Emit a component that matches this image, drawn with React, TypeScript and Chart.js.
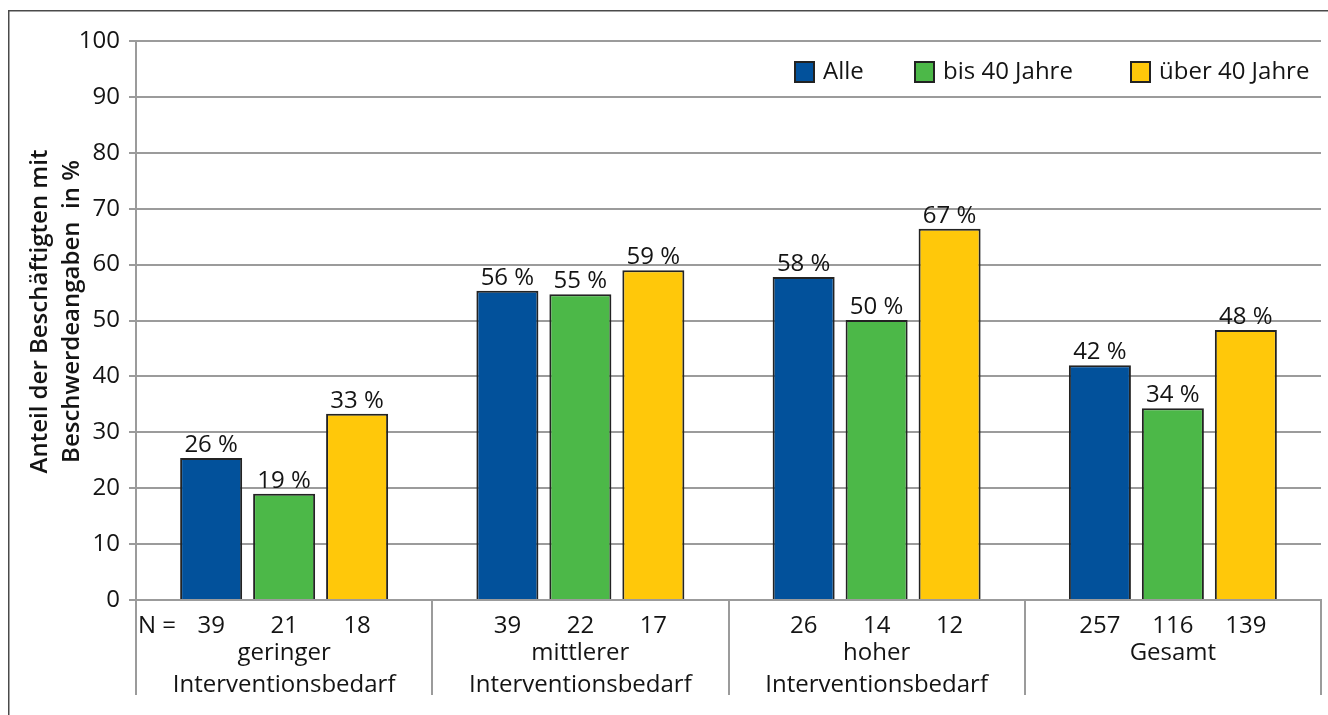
import React, { useEffect, useRef } from 'react';
import { Chart, registerables } from 'chart.js';

Chart.register(...registerables);

// ---- data ----
const groupLines: string[][] = [
  ['geringer', 'Interventionsbedarf'],
  ['mittlerer', 'Interventionsbedarf'],
  ['hoher', 'Interventionsbedarf'],
  ['Gesamt'],
];
const categories = groupLines.map((l) => l.join(' '));
const seriesNames = ['Alle', 'bis 40 Jahre', 'über 40 Jahre'];
const alleValues = [25.4, 55.3, 57.8, 42.0];
const bis40Values = [19.0, 54.7, 50.1, 34.3];
const ueber40Values = [33.3, 59.0, 66.4, 48.3];
const alleLabels = ['26 %', '56 %', '58 %', '42 %'];
const bis40Labels = ['19 %', '55 %', '50 %', '34 %'];
const ueber40Labels = ['33 %', '59 %', '67 %', '48 %'];
const alleN = ['39', '39', '26', '257'];
const bis40N = ['21', '22', '14', '116'];
const ueber40N = ['18', '17', '12', '139'];
const nPrefix = 'N =';
const yTitleLines = ['Anteil der Beschäftigten mit', 'Beschwerdeangaben  in %'];
const yMin = 0;
const yMax = 100;
const yStep = 10;

const seriesColors = ['#02519B', '#4CB848', '#FFC80A'];
const valueLabels = [alleLabels, bis40Labels, ueber40Labels];
const nLabels = [alleN, bis40N, ueber40N];

const FONT = "'Open Sans', 'Noto Sans', sans-serif";
const FS = 24;
const TEXT = '#141414';
const GRID = '#9b9b9b';

const overlayPlugin = {
  id: 'overlay',
  afterDraw(chart: any) {
    const ctx = chart.ctx as CanvasRenderingContext2D;
    const area = chart.chartArea;
    ctx.save();
    // outer frame
    ctx.strokeStyle = '#4a4a4a';
    ctx.lineWidth = 1.5;
    ctx.beginPath();
    ctx.moveTo(8.75, 715);
    ctx.lineTo(8.75, 10.75);
    ctx.lineTo(1328, 10.75);
    ctx.stroke();

    ctx.fillStyle = TEXT;
    ctx.font = `${FS}px ${FONT}`;
    // value labels above bars and N values below
    chart.data.datasets.forEach((ds: any, di: number) => {
      const meta = chart.getDatasetMeta(di);
      meta.data.forEach((el: any, i: number) => {
        ctx.textAlign = 'center';
        ctx.textBaseline = 'bottom';
        ctx.fillText(valueLabels[di][i], el.x, el.y - 1);
        ctx.textBaseline = 'middle';
        ctx.fillText(nLabels[di][i], el.x, area.bottom + 26);
      });
    });
    ctx.textAlign = 'left';
    ctx.textBaseline = 'middle';
    ctx.fillText(nPrefix, area.left + 2, area.bottom + 26);

    // group labels
    const xs = chart.scales.x;
    groupLines.forEach((lines, i) => {
      const cx = xs.getPixelForValue(i);
      lines.forEach((t, li) => {
        ctx.textAlign = 'center';
        ctx.textBaseline = 'middle';
        ctx.fillText(t, cx, area.bottom + 53 + li * 32);
      });
    });

    // y axis title
    ctx.save();
    ctx.translate(56, (area.top + area.bottom) / 2 - 9);
    ctx.rotate(-Math.PI / 2);
    ctx.font = `600 ${FS}px ${FONT}`;
    ctx.textAlign = 'center';
    ctx.textBaseline = 'middle';
    ctx.fillText(yTitleLines[0], 0, -16);
    ctx.fillText(yTitleLines[1], 0, 16);
    ctx.restore();

    // legend inside plot
    const legendX = [795, 915, 1131];
    const ly = 72;
    ctx.font = `${FS}px ${FONT}`;
    seriesNames.forEach((name, i) => {
      const x = legendX[i];
      ctx.fillStyle = seriesColors[i];
      ctx.fillRect(x, ly - 10, 19, 20);
      ctx.strokeStyle = '#222';
      ctx.lineWidth = 2;
      ctx.strokeRect(x, ly - 10, 19, 20);
      ctx.fillStyle = TEXT;
      ctx.textAlign = 'left';
      ctx.textBaseline = 'middle';
      ctx.fillText(name, x + 28, ly);
    });
    ctx.restore();
  },
};

export default function App() {
  const ref = useRef<HTMLCanvasElement>(null);
  useEffect(() => {
    if (!ref.current) return;
    const datasets = [alleValues, bis40Values, ueber40Values].map((vals, i) => ({
      label: seriesNames[i],
      data: vals,
      backgroundColor: seriesColors[i],
      borderColor: '#232323',
      borderWidth: 2,
      categoryPercentage: 0.739,
      barPercentage: 0.85,
    }));
    const chart = new Chart(ref.current, {
      type: 'bar',
      data: { labels: categories, datasets },
      options: {
        responsive: false,
        animation: false,
        devicePixelRatio: 1,
        layout: { padding: { left: 0, top: 41, right: 7, bottom: 20 } },
        plugins: { legend: { display: false }, tooltip: { enabled: false } },
        scales: {
          x: {
            type: 'category',
            grid: {
              offset: true,
              drawOnChartArea: false,
              drawTicks: true,
              tickLength: 95,
              color: GRID,
              lineWidth: 2,
            },
            border: { display: true, color: GRID, width: 2 },
            ticks: { display: false },
          },
          y: {
            min: yMin,
            max: yMax,
            afterFit: (scale: any) => {
              scale.width = 136;
            },
            grid: { color: GRID, lineWidth: 2, tickLength: 7 },
            border: { display: true, color: GRID, width: 2 },
            ticks: {
              stepSize: yStep,
              padding: 9,
              color: TEXT,
              font: { family: FONT, size: FS },
            },
          },
        },
      },
      plugins: [overlayPlugin],
    });
    return () => chart.destroy();
  }, []);
  return (
    <div style={{ position: 'fixed', left: 0, top: 0, width: 1328, height: 715, background: '#fff' }}>
      <canvas ref={ref} width={1328} height={715} style={{ display: 'block' }} />
    </div>
  );
}
